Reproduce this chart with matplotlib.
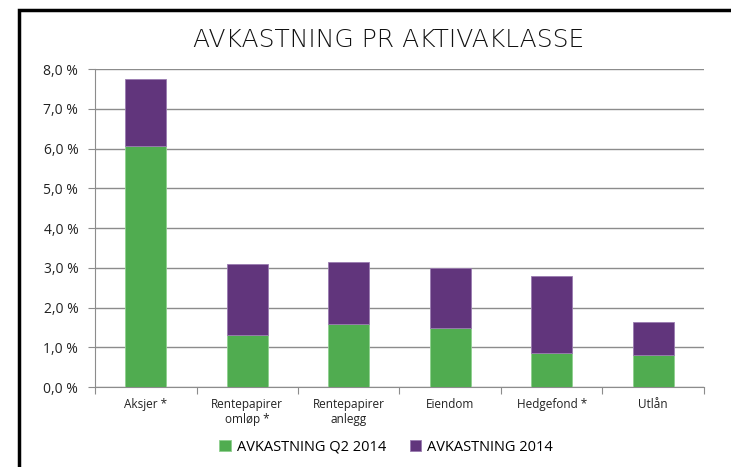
import matplotlib.pyplot as plt
import numpy as np
from matplotlib.patches import Rectangle
from matplotlib.ticker import FuncFormatter

categories = ['Aksjer *', 'Rentepapirer\nomløp *', 'Rentepapirer\nanlegg', 'Eiendom', 'Hedgefond *', 'Utlån']
q2_2014 = [6.07, 1.31, 1.59, 1.49, 0.85, 0.81]
year_2014 = [1.69, 1.78, 1.56, 1.50, 1.94, 0.83]
labels = ['AVKASTNING Q2 2014', 'AVKASTNING 2014']

plt.rcParams['font.family'] = ['Open Sans', 'DejaVu Sans']

fig = plt.figure(figsize=(7.31, 4.67), dpi=100)
ax = fig.add_axes([0.130, 0.1713, 0.833, 0.6809])

# black frame around chart (cut off at right and bottom)
fig.patches.append(Rectangle((19 / 731, -0.1), 1.2, (467 - 10) / 467 + 0.1, transform=fig.transFigure,
                             fill=False, edgecolor='black', linewidth=2.5))

x = np.arange(len(categories))
ax.bar(x, q2_2014, width=0.4, color='#50AC50', edgecolor='#8fd08f', linewidth=0.6, label=labels[0], zorder=3)
ax.bar(x, year_2014, width=0.4, bottom=q2_2014, color='#61357C', edgecolor='#9a7cb0', linewidth=0.6,
       label=labels[1], zorder=3)

ax.set_xlim(-0.5, 5.5)
ax.set_ylim(0, 8)
ax.set_yticks(np.arange(0, 9, 1))
ax.yaxis.set_major_formatter(FuncFormatter(lambda v, p: '{:.1f} %'.format(v).replace('.', ',')))
ax.grid(axis='y', color='#8c8c8c', linewidth=1)
ax.set_axisbelow(True)

ax.set_xticks(np.arange(-0.5, 6, 1))
ax.set_xticklabels([])
ax.set_xticks(x, minor=True)
ax.set_xticklabels(categories, minor=True, fontsize=8.5, color='#222222')
ax.tick_params(axis='x', which='minor', length=0, pad=8)
ax.tick_params(axis='x', which='major', length=5, color='#8c8c8c')
ax.tick_params(axis='y', length=5, pad=7, color='#8c8c8c', labelsize=10, colors='#222222')

for s in ['top', 'right']:
    ax.spines[s].set_visible(False)
ax.spines['left'].set_color('#8c8c8c')
ax.spines['bottom'].set_color('#8c8c8c')

fig.text(0.531, 0.914, 'AVKASTNING PR AKTIVAKLASSE', ha='center', va='center', fontsize=18,
         family='DejaVu Sans', fontweight='light', color='#111111')

ax.legend(loc='center', bbox_to_anchor=(0.478, -0.19), ncol=2, frameon=False, fontsize=10.5,
          handlelength=0.8, handleheight=0.8, handletextpad=0.4, columnspacing=1.6)

plt.savefig('out.png', dpi=100)
